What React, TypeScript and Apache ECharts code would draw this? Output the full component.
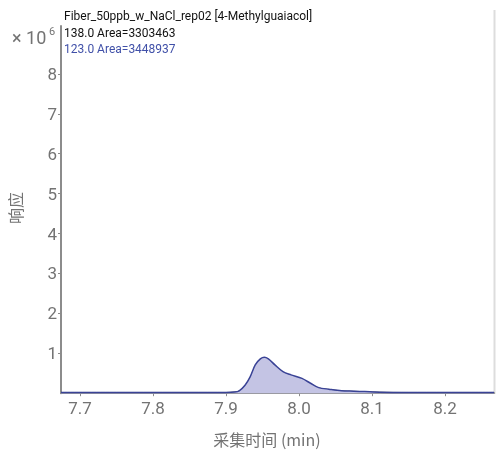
import React, { useEffect, useRef } from "react";
import * as echarts from "echarts";

const titleLine = "Fiber_50ppb_w_NaCl_rep02 [4-Methylguaiacol]";
const legend138 = "138.0 Area=3303463";
const legend123 = "123.0 Area=3448937";
const xTicks = [7.7, 7.8, 7.9, 8.0, 8.1, 8.2];
const yTicks = [1e6, 2e6, 3e6, 4e6, 5e6, 6e6, 7e6, 8e6];
const xMin = 7.674;
const xMax = 8.267;
const yMax = 9.2e6;

const times = [7.674, 7.75, 7.85, 7.9, 7.912, 7.918, 7.926, 7.933, 7.94, 7.947, 7.9525, 7.958, 7.967, 7.978, 7.989, 8.004, 8.0157, 8.027, 8.041, 8.058, 8.075, 8.09, 8.11, 8.15, 8.2, 8.267];
const resp123 = [20000, 20000, 20000, 20000, 30000, 60000, 200000, 410000, 710000, 860000, 900000, 860000, 710000, 540000, 460000, 370000, 250000, 140000, 100000, 60000, 50000, 40000, 25000, 20000, 20000, 20000];
const resp138 = [18000, 18000, 18000, 18000, 28000, 55000, 190000, 390000, 680000, 820000, 860000, 820000, 680000, 520000, 440000, 350000, 240000, 130000, 95000, 57000, 47000, 38000, 24000, 18000, 18000, 18000];

export default function App() {
  const ref = useRef<HTMLDivElement>(null);
  useEffect(() => {
    if (!ref.current) return;
    const chart = echarts.init(ref.current, null, { renderer: "svg" });
    const gray = "#737373";
    chart.setOption({
      animation: false,
      grid: { left: 61, right: 4, top: 26, bottom: 56.8, containLabel: false },
      xAxis: {
        type: "value",
        min: xMin,
        max: xMax,
        axisLine: { show: true, lineStyle: { color: "#8c8c8c", width: 2 } },
        axisTick: { show: true, length: 3, customValues: xTicks, lineStyle: { color: "#8c8c8c" } },
        axisLabel: {
          customValues: xTicks,
          formatter: (v: number) => v.toFixed(1),
          color: gray,
          fontSize: 17,
          fontFamily: "Roboto",
          margin: 6,
        },
        splitLine: { show: false },
      },
      yAxis: {
        type: "value",
        min: 0,
        max: yMax,
        axisLine: { show: true, lineStyle: { color: "#8c8c8c", width: 2 } },
        axisTick: { show: true, length: 3, customValues: yTicks, lineStyle: { color: "#8c8c8c" } },
        axisLabel: {
          customValues: yTicks,
          formatter: (v: number) => String(Math.round(v / 1e6)),
          color: gray,
          fontSize: 17,
          fontFamily: "Roboto",
          margin: 4,
        },
        splitLine: { show: false },
      },
      series: [
        {
          name: legend138,
          type: "line",
          data: times.map((t, i) => [t, resp138[i]]),
          showSymbol: false,
          smooth: 0.3,
          lineStyle: { color: "#222222", width: 1 },
          z: 1,
        },
        {
          name: legend123,
          type: "line",
          data: times.map((t, i) => [t, resp123[i]]),
          showSymbol: false,
          smooth: 0.3,
          lineStyle: { color: "#3a4396", width: 1.5 },
          areaStyle: { color: "#c4c4e4", opacity: 1 },
          z: 2,
        },
      ],
      graphic: [
        {
          type: "line",
          shape: { x1: 494.5, y1: 10, x2: 494.5, y2: 394 },
          style: { stroke: "#dddddd", lineWidth: 2 },
        },
        {
          type: "text",
          x: 64,
          y: 16,
          style: { text: titleLine, fill: "#111111", font: "12px Roboto", textVerticalAlign: "middle" },
        },
        {
          type: "text",
          x: 64,
          y: 33,
          style: { text: legend138, fill: "#111111", font: "12px Roboto", textVerticalAlign: "middle" },
        },
        {
          type: "text",
          x: 64,
          y: 49,
          style: { text: legend123, fill: "#4050a8", font: "12px Roboto", textVerticalAlign: "middle" },
        },
        {
          type: "text",
          x: 12,
          y: 37,
          style: { text: "× 10", fill: gray, font: "18px Roboto", textVerticalAlign: "middle" },
        },
        {
          type: "text",
          x: 49,
          y: 31,
          style: { text: "6", fill: gray, font: "11px Roboto", textVerticalAlign: "middle" },
        },
        {
          type: "text",
          x: 15,
          y: 208,
          rotation: Math.PI / 2,
          style: {
            text: "响应",
            fill: gray,
            font: "16px 'Noto Sans CJK SC'",
            textAlign: "center",
            textVerticalAlign: "middle",
          },
        },
        {
          type: "text",
          x: 267,
          y: 439,
          style: {
            text: "采集时间 (min)",
            fill: gray,
            font: "16px 'Noto Sans CJK SC'",
            textAlign: "center",
            textVerticalAlign: "middle",
          },
        },
      ],
    });
    return () => chart.dispose();
  }, []);
  return <div ref={ref} style={{ position: "fixed", left: 0, top: 0, width: 498, height: 450 }} />;
}
